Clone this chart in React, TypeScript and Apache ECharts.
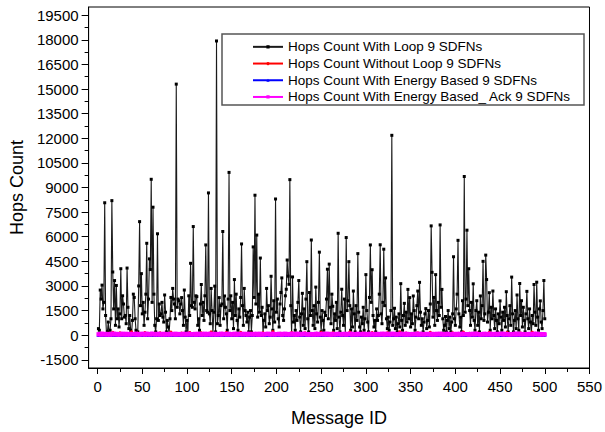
import React, { useEffect, useRef } from "react";
import * as echarts from "echarts";

// Hops count values for message IDs 1..500
const withLoop: number[] = [
  400, 300, 2750, 2200, 3050, 1600, 2000, 8070, 1200, 100,
  200, 800, 100, 300, 1000, 8200, 3850, 1600, 3330, 600,
  3030, 1000, 1600, 500, 1300, 4050, 1000, 2400, 1900, 1100,
  1200, 700, 4090, 1700, 400, 1200, 300, 100, 900, 2500,
  2300, 1000, 300, 100, 200, 3000, 6920, 1800, 3750, 1300,
  2000, 600, 1400, 2500, 5600, 1000, 2200, 4650, 4000, 9500,
  2000, 7800, 2500, 600, 200, 1000, 6180, 900, 1900, 1200,
  1300, 2000, 1100, 800, 2450, 1400, 200, 900, 500, 100,
  1000, 2300, 1500, 2850, 2200, 1900, 1000, 15300, 1700, 2200,
  2100, 1300, 1900, 2290, 1500, 600, 2750, 1100, 200, 900,
  100, 2400, 1200, 4380, 1800, 1700, 6620, 2000, 1600, 2400,
  2350, 600, 1000, 300, 1900, 3090, 1200, 2000, 900, 2400,
  5500, 1500, 1400, 8670, 1300, 700, 2850, 1500, 100, 1400,
  2990, 200, 17930, 700, 1200, 2290, 600, 1800, 1900, 6320,
  1000, 2390, 1700, 1300, 300, 2200, 9920, 1500, 2400, 1000,
  2000, 400, 3390, 1200, 2500, 900, 300, 1600, 1100, 2300,
  5560, 1800, 600, 2850, 1500, 1200, 800, 1400, 200, 1100,
  1500, 200, 1200, 5380, 2300, 8530, 1900, 6100, 1100, 2500,
  1400, 4700, 1200, 1700, 100, 900, 1300, 500, 2850, 1500,
  1800, 700, 1100, 3590, 1600, 300, 2100, 800, 8300, 1400,
  2200, 1000, 500, 1900, 2600, 3490, 1200, 900, 1600, 2400,
  2800, 4580, 3600, 3100, 9480, 1800, 100, 3550, 800, 1200,
  300, 1500, 900, 2000, 3330, 1100, 200, 1300, 2550, 600,
  1600, 400, 2200, 4480, 1000, 200, 2600, 1200, 5800, 1500,
  600, 1800, 400, 2930, 1300, 800, 2000, 5060, 1100, 200,
  1500, 900, 300, 1400, 1200, 2200, 4020, 1000, 4330, 1700,
  700, 2500, 1760, 300, 1300, 900, 2000, 400, 6210, 1100,
  200, 1400, 2800, 1200, 600, 2200, 100, 5950, 1500, 2100,
  4480, 1800, 300, 1600, 500, 2690, 1300, 200, 1800, 900,
  4970, 1400, 500, 200, 1100, 700, 1700, 300, 1000, 3690,
  1500, 800, 200, 2300, 5500, 2000, 3990, 1200, 500, 900,
  200, 1600, 900, 1200, 2500, 5510, 1300, 700, 2000, 5240,
  1800, 3490, 1000, 400, 1100, 300, 800, 1500, 12180, 600,
  1000, 1640, 400, 1100, 200, 700, 1300, 500, 3140, 900,
  300, 1200, 1940, 600, 1400, 800, 2790, 1000, 2290, 500,
  1300, 700, 2390, 1500, 300, 1100, 1800, 2690, 1000, 3220,
  1400, 600, 1000, 200, 800, 1300, 1620, 400, 900, 1500,
  500, 1900, 6660, 3830, 1100, 2300, 600, 3690, 1500, 900,
  2000, 1200, 6720, 1700, 2790, 1000, 300, 600, 1140, 200,
  900, 1500, 400, 1100, 200, 800, 1300, 4780, 1000, 600,
  1600, 2500, 5780, 1300, 500, 1100, 200, 2100, 1200, 9670,
  1400, 2200, 6400, 1800, 4050, 1500, 600, 2000, 1100, 3130,
  900, 300, 1500, 2100, 600, 1400, 200, 2390, 1000, 1800,
  4500, 900, 1300, 4880, 3390, 800, 1400, 2590, 300, 1700,
  1000, 2690, 1200, 400, 1600, 900, 200, 1300, 700, 2090,
  1100, 300, 1400, 900, 1700, 500, 2650, 1200, 200, 1000,
  1800, 600, 3540, 1300, 200, 900, 1500, 400, 2450, 1000,
  300, 3150, 1200, 2100, 500, 1700, 900, 200, 1300, 2670,
  1000, 400, 1600, 800, 100, 1200, 700, 3090, 1400, 600,
  3230, 1100, 300, 1600, 2090, 800, 400, 1500, 3330, 1000,
];

const withoutLoop: number[] = [
  60, 40, 90, 30, 120, 50, 70, 20, 80, 45,
  35, 110, 55, 25, 90, 60, 180, 40, 70, 30,
  50, 85, 20, 65, 140, 35, 75, 55, 25, 95,
  45, 30, 100, 60, 20, 80, 50, 210, 35, 70,
  90, 25, 55, 40, 130, 65, 30, 85, 50, 20,
  75, 45, 160, 30, 60, 95, 40, 25, 70, 55,
  35, 80, 20, 115, 50, 65, 30, 90, 45, 150,
  60, 25, 85, 40, 70, 35, 105, 55, 20, 80,
  45, 190, 30, 65, 50, 25, 90, 40, 75, 35,
  55, 80, 20, 125, 45, 60, 30, 95, 50, 70,
  30, 65, 170, 40, 85, 25, 55, 100, 35, 60,
  80, 40, 20, 95, 55, 140, 30, 70, 45, 25,
  65, 35, 90, 50, 20, 75, 200, 45, 60, 30,
  40, 105, 55, 25, 80, 35, 65, 20, 120, 50,
  70, 30, 45, 155, 25, 60, 90, 40, 55, 85,
  20, 75, 50, 35, 110, 45, 30, 80, 60, 175,
  55, 25, 95, 40, 65, 30, 85, 50, 20, 70,
  45, 130, 35, 60, 25, 90, 55, 40, 75, 30,
  85, 50, 20, 65, 145, 35, 70, 25, 100, 45,
  30, 60, 80, 40, 55, 220, 25, 75, 45, 90,
  65, 35, 50, 115, 30, 80, 40, 60, 20, 95,
  40, 75, 25, 55, 90, 30, 165, 45, 65, 35,
  80, 20, 60, 45, 35, 100, 50, 25, 85, 40,
  55, 140, 30, 70, 45, 20, 65, 90, 35, 60,
  25, 85, 50, 35, 120, 55, 40, 75, 30, 180,
  70, 45, 25, 95, 60, 35, 80, 20, 55, 110,
  40, 65, 150, 30, 75, 50, 25, 90, 45, 60,
  85, 30, 55, 40, 20, 105, 65, 35, 70, 45,
  50, 195, 35, 60, 85, 25, 45, 75, 30, 95,
  60, 40, 80, 25, 55, 130, 35, 70, 50, 20,
  45, 90, 30, 65, 40, 75, 160, 25, 55, 85,
  35, 60, 50, 20, 95, 45, 30, 80, 115, 40,
  75, 25, 65, 140, 35, 55, 90, 40, 20, 70,
  50, 85, 30, 45, 60, 25, 75, 210, 35, 65,
  90, 40, 55, 20, 125, 70, 30, 50, 85, 45,
  25, 65, 80, 35, 50, 95, 40, 150, 60, 30,
  70, 45, 20, 100, 55, 35, 65, 25, 80, 50,
  40, 175, 60, 30, 85, 45, 20, 70, 55, 95,
  65, 30, 50, 120, 35, 80, 40, 60, 25, 75,
  55, 90, 25, 45, 70, 30, 145, 50, 35, 85,
  30, 60, 95, 40, 20, 65, 55, 80, 190, 45,
  80, 35, 50, 70, 25, 110, 45, 30, 60, 90,
  45, 70, 30, 55, 135, 40, 85, 25, 65, 50,
  60, 25, 80, 45, 35, 95, 50, 170, 30, 75,
  35, 55, 65, 20, 90, 40, 70, 45, 115, 25,
  75, 45, 30, 85, 50, 60, 25, 155, 40, 65,
  50, 100, 40, 25, 70, 35, 80, 55, 30, 90,
  25, 65, 125, 45, 55, 30, 95, 40, 75, 60,
  85, 40, 20, 60, 45, 185, 35, 70, 50, 30,
  55, 75, 45, 90, 30, 65, 40, 25, 80, 50,
];

const energyBased: number[] = [
  30, 20, 45, 15, 35, 25, 50, 10, 40, 20,
  25, 55, 30, 15, 40, 20, 35, 60, 25, 45,
  15, 35, 25, 50, 20, 40, 30, 15, 55, 25,
  40, 20, 35, 25, 60, 15, 45, 30, 20, 35,
  25, 45, 15, 35, 30, 50, 20, 40, 25, 15,
  35, 25, 55, 20, 40, 15, 30, 45, 25, 60,
  20, 40, 30, 15, 50, 35, 25, 20, 45, 30,
  45, 15, 35, 60, 25, 40, 20, 30, 55, 25,
  30, 50, 20, 35, 15, 45, 25, 40, 20, 35,
  15, 35, 45, 25, 30, 20, 55, 15, 40, 25,
  40, 25, 30, 50, 20, 35, 15, 45, 30, 20,
  25, 60, 35, 15, 45, 25, 40, 20, 35, 50,
  35, 20, 45, 30, 15, 55, 25, 35, 20, 40,
  20, 45, 25, 40, 35, 15, 50, 30, 25, 35,
  50, 30, 15, 35, 25, 45, 20, 40, 55, 15,
  25, 40, 35, 20, 60, 30, 15, 45, 25, 35,
  45, 15, 30, 50, 25, 40, 35, 20, 30, 55,
  30, 35, 20, 45, 15, 25, 50, 35, 40, 20,
  15, 50, 40, 25, 35, 20, 45, 15, 35, 30,
  35, 25, 55, 30, 20, 40, 25, 50, 15, 45,
  20, 40, 25, 15, 45, 35, 30, 20, 55, 25,
  45, 30, 35, 50, 25, 15, 40, 35, 20, 60,
  25, 15, 45, 30, 40, 25, 20, 55, 35, 30,
  40, 35, 20, 45, 15, 50, 35, 25, 40, 15,
  30, 55, 25, 35, 30, 20, 45, 15, 25, 50,
  15, 25, 40, 20, 55, 35, 25, 45, 30, 35,
  50, 40, 15, 35, 25, 45, 20, 30, 60, 20,
  25, 20, 45, 30, 40, 15, 55, 35, 25, 40,
  35, 45, 30, 20, 35, 25, 15, 50, 40, 25,
  20, 30, 55, 40, 15, 45, 35, 25, 20, 50,
  45, 25, 20, 35, 50, 30, 40, 15, 35, 25,
  30, 50, 35, 15, 25, 55, 20, 45, 30, 40,
  15, 35, 45, 25, 40, 20, 35, 30, 55, 20,
  40, 20, 30, 50, 15, 35, 45, 25, 20, 35,
  25, 45, 15, 35, 30, 40, 20, 55, 35, 15,
  50, 30, 40, 20, 45, 25, 35, 15, 40, 30,
  20, 15, 35, 45, 25, 50, 30, 40, 25, 45,
  35, 40, 25, 30, 55, 15, 45, 20, 30, 35,
  45, 25, 50, 15, 35, 40, 20, 35, 50, 25,
  15, 35, 30, 40, 20, 30, 55, 25, 15, 45,
  30, 50, 20, 35, 45, 25, 15, 40, 35, 20,
  40, 20, 45, 25, 30, 50, 35, 20, 45, 30,
  25, 35, 15, 55, 20, 35, 40, 30, 15, 50,
  50, 25, 40, 30, 35, 15, 45, 25, 40, 20,
  20, 45, 30, 20, 50, 40, 25, 35, 30, 45,
  35, 15, 55, 35, 25, 30, 50, 15, 45, 25,
  45, 40, 20, 45, 15, 35, 20, 40, 25, 35,
  15, 30, 35, 25, 40, 55, 30, 45, 20, 40,
  40, 20, 45, 30, 25, 20, 45, 30, 50, 15,
  25, 50, 30, 15, 35, 40, 25, 20, 35, 45,
];

const energyBasedAck: number[] = [
  60, 45, 80, 35, 95, 55, 70, 40, 85, 50,
  40, 75, 55, 30, 90, 65, 45, 100, 50, 70,
  85, 35, 65, 50, 40, 80, 55, 95, 45, 60,
  50, 90, 40, 70, 55, 35, 85, 60, 75, 45,
  70, 55, 95, 40, 65, 50, 30, 80, 55, 90,
  45, 80, 35, 60, 100, 45, 70, 55, 40, 85,
  95, 50, 75, 45, 55, 85, 40, 65, 90, 35,
  55, 70, 40, 90, 35, 60, 80, 50, 45, 75,
  40, 85, 60, 50, 75, 45, 95, 35, 70, 55,
  80, 45, 70, 35, 85, 55, 50, 90, 40, 65,
  50, 95, 45, 75, 40, 70, 60, 45, 85, 35,
  75, 40, 90, 55, 65, 35, 80, 55, 50, 95,
  35, 65, 55, 85, 45, 90, 40, 70, 60, 45,
  90, 50, 40, 65, 80, 55, 45, 95, 35, 75,
  55, 85, 70, 40, 50, 75, 90, 40, 65, 50,
  45, 60, 95, 55, 35, 85, 50, 70, 45, 80,
  80, 40, 55, 90, 60, 45, 75, 35, 95, 55,
  60, 75, 45, 50, 85, 40, 65, 90, 50, 40,
  40, 95, 65, 35, 70, 55, 45, 80, 60, 85,
  85, 50, 40, 80, 45, 95, 55, 40, 75, 50,
  55, 70, 90, 45, 60, 35, 85, 65, 40, 95,
  70, 45, 55, 75, 40, 80, 50, 95, 55, 45,
  45, 85, 35, 60, 95, 50, 70, 40, 85, 60,
  95, 55, 75, 45, 50, 65, 40, 80, 45, 70,
  50, 40, 60, 90, 35, 85, 55, 45, 70, 55,
  65, 90, 45, 55, 80, 40, 95, 60, 50, 40,
  40, 60, 85, 40, 65, 55, 45, 75, 90, 50,
  80, 45, 50, 70, 45, 90, 60, 35, 55, 85,
  55, 75, 95, 35, 55, 45, 80, 65, 40, 60,
  90, 40, 65, 85, 50, 70, 35, 90, 60, 45,
  45, 80, 40, 55, 95, 45, 65, 50, 80, 35,
  70, 55, 85, 45, 40, 75, 55, 95, 45, 65,
  35, 95, 50, 70, 65, 40, 85, 45, 60, 90,
  85, 45, 60, 40, 80, 55, 45, 70, 95, 50,
  55, 65, 45, 90, 35, 85, 60, 40, 55, 75,
  60, 40, 80, 55, 70, 45, 95, 55, 40, 85,
  45, 90, 55, 65, 40, 75, 50, 85, 65, 45,
  80, 50, 40, 85, 60, 35, 70, 45, 90, 55,
  50, 75, 95, 45, 55, 80, 40, 60, 45, 70,
  95, 45, 60, 70, 40, 55, 85, 50, 75, 40,
  40, 85, 50, 35, 90, 65, 45, 95, 55, 60,
  75, 55, 70, 60, 45, 40, 80, 45, 65, 90,
  55, 40, 95, 80, 55, 70, 35, 75, 40, 50,
  65, 90, 45, 50, 85, 45, 60, 55, 95, 45,
  45, 55, 80, 40, 65, 90, 50, 40, 70, 85,
  85, 70, 40, 95, 45, 55, 75, 65, 45, 55,
  50, 45, 65, 55, 80, 40, 95, 50, 85, 40,
  70, 95, 50, 45, 60, 75, 45, 80, 55, 65,
  40, 60, 85, 70, 50, 45, 65, 90, 40, 80,
  90, 50, 55, 40, 75, 60, 40, 55, 70, 50,
];

const seriesNames = [
  "Hops Count With Loop 9 SDFNs",
  "Hops Count Without Loop 9 SDFNs",
  "Hops Count With Energy Based 9 SDFNs",
  "Hops Count With Energy Based_ Ack 9 SDFNs",
];

const xMajorTicks = [0, 50, 100, 150, 200, 250, 300, 350, 400, 450, 500, 550];
const xMinorTicks = [25, 75, 125, 175, 225, 275, 325, 375, 425, 475, 525];
const yMajorTicks = [
  -1500, 0, 1500, 3000, 4500, 6000, 7500, 9000, 10500, 12000, 13500, 15000,
  16500, 18000, 19500,
];
const yMinorTicks = [
  -750, 750, 2250, 3750, 5250, 6750, 8250, 9750, 11250, 12750, 14250, 15750,
  17250, 18750,
];

const FONT = "'Liberation Sans', Arial, Helvetica, sans-serif";

function toPoints(vals: number[]) {
  return vals.map((v, i) => [i + 1, v]);
}

const plain = (v: number) => String(Math.round(v));

export default function App() {
  const ref = useRef<HTMLDivElement>(null);

  useEffect(() => {
    if (!ref.current) return;
    const chart = echarts.init(ref.current, undefined, { renderer: "svg" });
    const xRange = { min: -10, max: 550 };
    const yRange = { min: -2000, max: 20000 };
    chart.setOption({
      animation: false,
      backgroundColor: "#ffffff",
      textStyle: { fontFamily: FONT },
      grid: {
        left: 88,
        right: 15,
        top: 7,
        bottom: 57,
        show: true,
        borderColor: "#000",
        borderWidth: 1,
        backgroundColor: "transparent",
      },
      xAxis: [
        {
          type: "value",
          ...xRange,
          position: "bottom",
          name: "Message ID",
          nameLocation: "middle",
          nameGap: 41,
          nameTextStyle: { fontSize: 18, color: "#000", fontFamily: FONT },
          axisLine: { show: true, onZero: false, lineStyle: { color: "#000", width: 1 } },
          axisTick: { show: true, customValues: xMajorTicks, length: 6, lineStyle: { color: "#000" } },
          axisLabel: { customValues: xMajorTicks, formatter: plain, fontSize: 15, color: "#000", margin: 11, fontFamily: FONT },
          splitLine: { show: false },
        },
        {
          type: "value",
          ...xRange,
          position: "bottom",
          axisLine: { show: false, onZero: false },
          axisTick: { show: true, customValues: xMinorTicks, length: 4, lineStyle: { color: "#000" } },
          axisLabel: { show: false },
          splitLine: { show: false },
        },
      ],
      yAxis: [
        {
          type: "value",
          ...yRange,
          position: "left",
          name: "Hops Count",
          nameLocation: "middle",
          nameGap: 60,
          nameTextStyle: { fontSize: 18, color: "#000", fontFamily: FONT },
          axisLine: { show: true, onZero: false, lineStyle: { color: "#000", width: 1 } },
          axisTick: { show: true, customValues: yMajorTicks, length: 7, lineStyle: { color: "#000" } },
          axisLabel: { customValues: yMajorTicks, formatter: plain, fontSize: 15, color: "#000", margin: 10, fontFamily: FONT },
          splitLine: { show: false },
        },
        {
          type: "value",
          ...yRange,
          position: "left",
          axisLine: { show: false, onZero: false },
          axisTick: { show: true, customValues: yMinorTicks, length: 4, lineStyle: { color: "#000" } },
          axisLabel: { show: false },
          splitLine: { show: false },
        },
      ],
      graphic: [
        {
          type: "rect",
          z: 3,
          shape: { x: 222, y: 34, width: 362, height: 71 },
          style: { fill: "#ffffff", stroke: "#555", lineWidth: 1.5 },
        },
      ],
      legend: {
        orient: "vertical",
        left: 252,
        top: 38.5,
        padding: 0,
        itemGap: 0,
        itemWidth: 30,
        itemHeight: 4,
        z: 5,
        data: seriesNames,
        textStyle: { fontSize: 13.5, lineHeight: 16.7, color: "#000", fontFamily: FONT, padding: [0, 0, 0, 0] },
      },
      series: [
        {
          name: seriesNames[0],
          type: "line",
          data: toPoints(withLoop),
          symbol: "rect",
          symbolSize: 3,
          lineStyle: { color: "#1a1a1a", width: 1.1 },
          itemStyle: { color: "#000" },
          z: 2,
        },
        {
          name: seriesNames[1],
          type: "line",
          data: toPoints(withoutLoop),
          symbol: "circle",
          symbolSize: 3,
          lineStyle: { color: "#ff0000", width: 1 },
          itemStyle: { color: "#ff0000" },
          z: 3,
        },
        {
          name: seriesNames[2],
          type: "line",
          data: toPoints(energyBased),
          symbol: "triangle",
          symbolSize: 4,
          lineStyle: { color: "#0000ff", width: 1 },
          itemStyle: { color: "#0000ff" },
          z: 4,
        },
        {
          name: seriesNames[3],
          type: "line",
          data: toPoints(energyBasedAck),
          symbol: "rect",
          symbolSize: 4,
          lineStyle: { color: "#ff00ff", width: 1.5 },
          itemStyle: { color: "#ff00ff" },
          z: 5,
        },
      ],
    });
    return () => chart.dispose();
  }, []);

  return <div ref={ref} style={{ width: 605, height: 432, position: "absolute", left: 0, top: 0 }} />;
}
